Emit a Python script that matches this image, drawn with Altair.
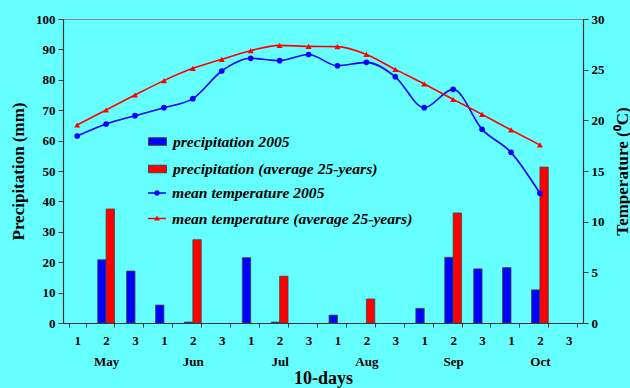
import altair as alt
import pandas as pd

months = ["May", "Jun", "Jul", "Aug", "Sep", "Oct"]
dekads = ["1", "2", "3"]
periods = [f"{m}-{d}" for m in months for d in dekads]

precip_2005 = [0, 20.8, 17.1, 5.9, 0.3, 0, 21.5, 0.3, 0, 2.6, 0, 0, 4.8, 21.6, 17.8, 18.2, 10.9, 0]
precip_avg = [0, 37.5, 0, 0, 27.4, 0, 0, 15.4, 0, 0, 7.9, 0, 0, 36.2, 0, 0, 51.3, 0]

temp_2005 = [18.45, 19.64, 20.46, 21.25, 22.14, 24.87, 26.12, 25.89, 26.5, 25.39,
             25.72, 24.3, 21.25, 23.06, 19.11, 16.84, 12.8]
temp_avg = [19.54, 21.02, 22.5, 23.92, 25.13, 26.02, 26.87, 27.4, 27.3, 27.27,
            26.5, 25.03, 23.59, 22.07, 20.59, 19.05, 17.57]

bar_series = ["precipitation 2005", "precipitation (average 25-years)"]
line_series = ["mean temperature 2005", "mean temperature (average 25-years)"]
BLUE, RED = "#0000FF", "#FF0000"
FONT = "Liberation Serif"

bars_df = pd.DataFrame({
    "period": periods * 2,
    "series": [bar_series[0]] * len(periods) + [bar_series[1]] * len(periods),
    "value": precip_2005 + precip_avg,
})
n_t = len(temp_2005)
temp_df = pd.DataFrame({
    "period": periods[:n_t] * 2,
    "series": [line_series[0]] * n_t + [line_series[1]] * n_t,
    "temp": temp_2005 + temp_avg,
})

label_expr = ("split(datum.value,'-')[1] == '2' ? "
              "[split(datum.value,'-')[1], split(datum.value,'-')[0]] : "
              "split(datum.value,'-')[1]")

x_enc = alt.X(
    "period:N", sort=periods,
    scale=alt.Scale(domain=periods, paddingInner=0.42),
    axis=alt.Axis(title="10-days", labelExpr=label_expr, labelAngle=0,
                  tickBand="extent", tickSize=4, labelPadding=7,
                  labelFontSize=13, labelLineHeight=21, titleFontSize=18,
                  titlePadding=1),
)

legend_text = dict(
    title=None, orient="none", padding=0, legendX=85,
    labelFont=FONT, labelFontSize=15.6, labelFontStyle="italic",
    labelFontWeight="bold", labelColor="black", labelOffset=6,
    rowPadding=8.5, labelLimit=400,
)

bar_legend = alt.Legend(
    legendY=113, symbolType="M-1,-0.42H1V0.42H-1Z", symbolSize=324,
    symbolStrokeColor="#444444", symbolStrokeWidth=1, **legend_text,
)

bars = alt.Chart(bars_df).transform_filter(
    alt.datum.value > 0
).mark_bar(stroke="#444444", strokeWidth=0.8).encode(
    x=x_enc,
    xOffset=alt.XOffset("series:N", sort=bar_series, scale=alt.Scale(domain=bar_series)),
    y=alt.Y("value:Q", scale=alt.Scale(domain=[0, 100], nice=False),
            axis=alt.Axis(title="Precipitation (mm)", orient="left",
                          values=list(range(0, 101, 10)), tickSize=5,
                          labelPadding=3, titleFontSize=17, titlePadding=8)),
    color=alt.Color("series:N", sort=bar_series,
                    scale=alt.Scale(domain=bar_series, range=[BLUE, RED]),
                    legend=bar_legend),
)

y_t = alt.Y("temp:Q", scale=alt.Scale(domain=[0, 30], nice=False),
            axis=alt.Axis(title="Temperature (⁰C)", orient="right",
                          values=list(range(0, 31, 5)), tickSize=5,
                          labelPadding=3, titleFontSize=17, titleAngle=270,
                          titleX=39, titleY=152, titleAlign="center",
                          titleBaseline="middle"))

circle_path = ("M-1,-0.07L1,-0.07L1,0.07L-1,0.07Z "
               "M0.3,0A0.3,0.3 0 1,1 -0.3,0A0.3,0.3 0 1,1 0.3,0Z")
tri_path = ("M-1,-0.07L1,-0.07L1,0.07L-1,0.07Z "
            "M0,-0.34L0.32,0.22L-0.32,0.22Z")
marker_shapes = ["circle", "triangle-up"]
marker_sizes = [32, 36]
legend_paths = [circle_path, tri_path]
legend_ys = [165, 190.5]
colors = [BLUE, RED]

temp_layers = []
for i, name in enumerate(line_series):
    sub = alt.Chart(temp_df).transform_filter(alt.datum.series == name)
    temp_layers.append(
        sub.mark_line(interpolate="monotone", strokeWidth=1.6, color=colors[i]).encode(x=x_enc, y=y_t)
    )
    temp_layers.append(
        sub.mark_point(shape=marker_shapes[i], filled=True, size=marker_sizes[i],
                       opacity=1, color=colors[i]).encode(x=x_enc, y=y_t)
    )
    temp_layers.append(
        alt.Chart(temp_df).transform_filter("false").mark_point(filled=True, opacity=1).encode(
            color=alt.Color("series:N",
                            scale=alt.Scale(domain=[name], range=[colors[i]]),
                            legend=alt.Legend(legendY=legend_ys[i], symbolType=legend_paths[i],
                                              symbolSize=324, symbolStrokeWidth=0,
                                              **legend_text))
        )
    )

temps = alt.layer(*temp_layers).resolve_scale(color="independent")

chart = alt.layer(bars, temps).resolve_scale(
    y="independent", color="independent"
).properties(
    width=520, height=304,
    autosize=alt.AutoSizeParams(type="none"),
    padding={"left": 63, "top": 19, "right": 47, "bottom": 65},
    background="#66FFFF",
).configure_view(
    fill="white", stroke="#888888", strokeWidth=1
).configure_axis(
    labelFont=FONT, titleFont=FONT, labelFontWeight="bold", titleFontWeight="bold",
    labelColor="black", titleColor="black", labelFontSize=13, grid=False,
    domainColor="#333333", tickColor="#333333", domainWidth=1.2,
)

chart.save("out.html", embed_options={"renderer": "svg", "actions": False})
